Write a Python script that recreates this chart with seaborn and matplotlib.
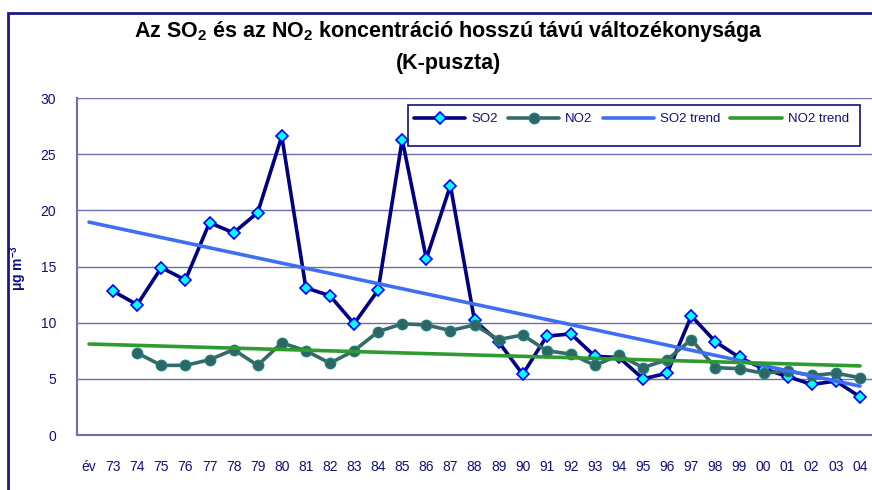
import numpy as np
import pandas as pd
import matplotlib.pyplot as plt
from matplotlib.patches import Rectangle
import seaborn as sns

YEARS = ["év", "73", "74", "75", "76", "77", "78", "79", "80", "81", "82", "83",
         "84", "85", "86", "87", "88", "89", "90", "91", "92", "93", "94", "95",
         "96", "97", "98", "99", "00", "01", "02", "03", "04"]
SO2 = [np.nan, 12.8, 11.6, 14.9, 13.8, 18.9, 18.0, 19.8, 26.6, 13.1, 12.4, 9.9,
       12.9, 26.3, 15.7, 22.2, 10.2, 8.3, 5.4, 8.8, 9.0, 7.0, 6.9, 5.0,
       5.5, 10.6, 8.3, 6.9, 5.9, 5.2, 4.5, 4.8, 3.4]
NO2 = [np.nan, np.nan, 7.3, 6.2, 6.2, 6.7, 7.6, 6.2, 8.2, 7.5, 6.4, 7.5,
       9.2, 9.9, 9.8, 9.3, 9.8, 8.5, 8.9, 7.5, 7.2, 6.2, 7.1, 6.0,
       6.7, 8.5, 6.0, 5.9, 5.5, 5.7, 5.3, 5.5, 5.1]
TREND_YEARS = ["év", "04"]
SO2_TREND = [18.95, 4.35]
NO2_TREND = [8.1, 6.15]

NAVY = "#10107a"
GRID = "#6e6ea8"

sns.set_theme(style="white")
plt.rcParams["font.family"] = ["Liberation Sans", "DejaVu Sans"]
plt.rcParams["mathtext.fontset"] = "custom"
plt.rcParams["mathtext.rm"] = "Liberation Sans"
plt.rcParams["mathtext.bf"] = "Liberation Sans:bold"

df = pd.DataFrame({"pos": np.arange(len(YEARS)), "SO2": SO2, "NO2": NO2})
tr = pd.DataFrame({"pos": [YEARS.index(y) for y in TREND_YEARS],
                   "SO2": SO2_TREND, "NO2": NO2_TREND})

fig = plt.figure(figsize=(8.72, 4.90), dpi=100)
ax = fig.add_axes([77 / 872, 1 - 435 / 490, 1 - 77 / 872, (435 - 98) / 490])

sns.lineplot(data=df, x="pos", y="SO2", ax=ax, color="#000080", lw=2.6,
             marker="D", markersize=6, markerfacecolor="#00ffff",
             markeredgecolor="#0000ff", markeredgewidth=1.2, label="SO2")
sns.lineplot(data=df, x="pos", y="NO2", ax=ax, color="#356a68", lw=2.6,
             marker="o", markersize=7.5, markerfacecolor="#2f6663",
             markeredgecolor="#1f8080", markeredgewidth=1.0, label="NO2")
sns.lineplot(data=tr, x="pos", y="SO2", ax=ax, color="#3f6ef2", lw=2.6,
             label="SO2 trend")
sns.lineplot(data=tr, x="pos", y="NO2", ax=ax, color="#2f9a30", lw=2.6,
             label="NO2 trend")

ax.set_xlim(-0.5, 32.45)
ax.set_ylim(0, 30)
ax.set_yticks(range(0, 31, 5))
ax.set_xticks(range(len(YEARS)))
ax.set_xticklabels(YEARS)
ax.set_xticks(np.arange(-0.5, len(YEARS), 1), minor=True)
ax.tick_params(axis="x", which="major", length=0, pad=18, labelsize=10, labelcolor=NAVY)
ax.tick_params(axis="x", which="minor", length=6, width=1, color=GRID, direction="out")
ax.tick_params(axis="y", length=7, width=1, color=GRID, direction="out",
               pad=8, labelsize=10, labelcolor=NAVY)
ax.yaxis.grid(True, color=GRID, lw=1)
ax.set_axisbelow(True)
for s in ["top", "right"]:
    ax.spines[s].set_visible(False)
for s in ["left", "bottom"]:
    ax.spines[s].set_color(GRID)
    ax.spines[s].set_linewidth(1.5)
ax.set_xlabel("")
ax.set_ylabel("")

fig.text(18 / 872, 1 - 268 / 490, r"$\mathbf{\mu}$g m$^{\mathbf{-3}}$", rotation=90,
         ha="center", va="center", fontsize=10, fontweight="bold", color=NAVY)

fig.text(448 / 872, 1 - 31 / 490,
         r"Az SO$_{\mathbf{2}}$ és az NO$_{\mathbf{2}}$ koncentráció hosszú távú változékonysága",
         ha="center", va="center", fontsize=15.5, fontweight="bold", color="black")
fig.text(448 / 872, 1 - 63 / 490, "(K-puszta)", ha="center", va="center",
         fontsize=15.5, fontweight="bold", color="black")

leg = ax.legend(loc="upper left", bbox_to_anchor=(414 / 872, 1 - 113 / 490),
                bbox_transform=fig.transFigure, ncol=4, frameon=False,
                fontsize=9.5, handlelength=3.9, handletextpad=0.45,
                columnspacing=0.76, borderpad=0, borderaxespad=0)
for t in leg.get_texts():
    t.set_color(NAVY)
fig.patches.append(Rectangle((408 / 872, 1 - 146 / 490), 452 / 872, 41 / 490,
                             transform=fig.transFigure, fill=False,
                             edgecolor=NAVY, lw=1.2, zorder=5))

# outer chart frame
fig.patches.append(Rectangle((8 / 872, -0.1), 1.2, 1.1 - 13 / 490,
                             transform=fig.transFigure, fill=False,
                             edgecolor="#1a1a8a", lw=2))

fig.savefig("out.png", dpi=100)
